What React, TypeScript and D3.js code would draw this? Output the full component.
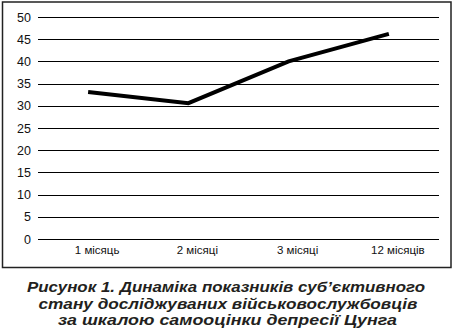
import React from "react";
import * as d3 from "d3";

const categories = ["1 місяць", "2 місяці", "3 місяці", "12 місяців"];
const values = [33.1, 30.6, 40.0, 46.2];
const yTicks = [0, 5, 10, 15, 20, 25, 30, 35, 40, 45, 50];
const captionLines = [
  "Рисунок 1. Динаміка показників суб’єктивного",
  "стану досліджуваних військовослужбовців",
  "за шкалою самооцінки депресії Цунга",
];
const captionWidths = [398, 379, 339];

export default function App() {
  const W = 456, H = 331;
  const x0 = 38, x1 = 439;
  const x = d3.scaleBand<string>().domain(categories).range([x0, x1]);
  const y = d3.scaleLinear().domain([0, 50]).range([239, 17]);
  const line = d3
    .line<number>()
    .x((_, i) => (x(categories[i]) as number) + x.bandwidth() / 2)
    .y((d) => y(d));
  const font = "'Liberation Sans', Arial, sans-serif";
  return (
    <svg
      width={W}
      height={H}
      style={{ position: "absolute", left: 0, top: 0, background: "#fff" }}
    >
      <rect x={2.5} y={2} width={448.5} height={265.5} fill="#fff" stroke="#222" strokeWidth={1.5} />
      {yTicks.map((t) => (
        <g key={t}>
          <line x1={x0} x2={x1} y1={Math.round(y(t)) + 0.5} y2={Math.round(y(t)) + 0.5} stroke="#000" strokeWidth={1} />
          <text x={31} y={y(t) + 4.5} textAnchor="end" fontFamily={font} fontSize={12.5} fill="#111">
            {t}
          </text>
        </g>
      ))}
      {categories.map((c) => (
        <text
          key={c}
          x={(x(c) as number) + x.bandwidth() / 2 + 9}
          y={254}
          textAnchor="middle"
          fontFamily={font}
          fontSize={11.5}
          fill="#111"
        >
          {c}
        </text>
      ))}
      <path d={line(values) || ""} fill="none" stroke="#000" strokeWidth={4} strokeLinejoin="miter" />
      {captionLines.map((l, i) => (
        <text
          key={i}
          x={228 - captionWidths[i] / 2 + (i === 0 ? -2 : i === 1 ? 0 : -0.5)}
          y={292 + i * 16.5}
          textLength={captionWidths[i]}
          lengthAdjust="spacingAndGlyphs"
          fontFamily={font}
          fontWeight="bold"
          fontStyle="italic"
          fontSize={15.5}
          fill="#231f20"
        >
          {l}
        </text>
      ))}
    </svg>
  );
}
